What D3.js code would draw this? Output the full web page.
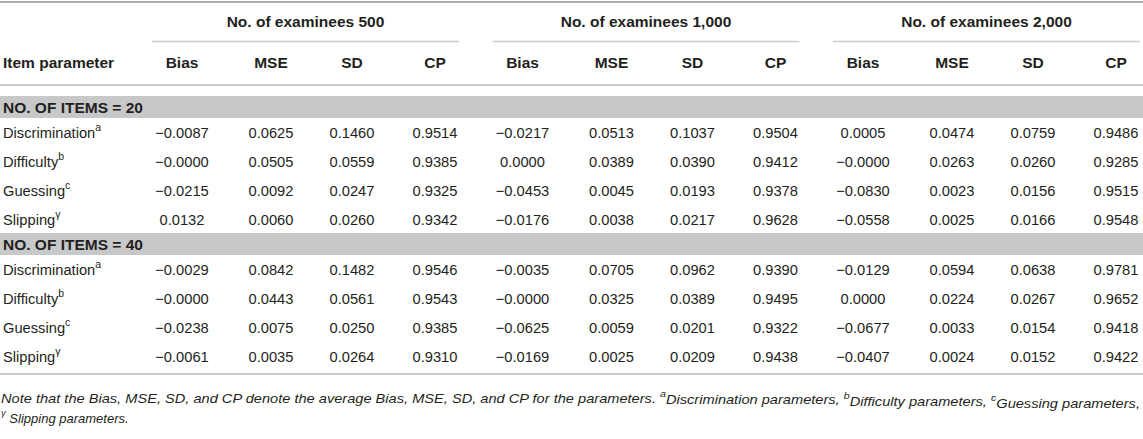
<!DOCTYPE html>
<html>
<head>
<meta charset="utf-8">
<script src="https://cdn.jsdelivr.net/npm/d3@7"></script>
<style>
  body { margin: 0; background: #fff; }
  text { font-family: "Liberation Sans", Arial, sans-serif; fill: #231f20; }
</style>
</head>
<body>
<svg id="table" width="1143" height="439"></svg>
<script>
// table content
const groups = ["No. of examinees 500", "No. of examinees 1,000", "No. of examinees 2,000"];
const stats = ["Bias", "MSE", "SD", "CP"];
const items = ["Discrimination", "Difficulty", "Guessing", "Slipping"];
const itemSups = ["a", "b", "c", "\u03b3"];
const sections = ["NO. OF ITEMS = 20", "NO. OF ITEMS = 40"];

// values per section, one row per item, 12 cells (500 / 1,000 / 2,000 x Bias MSE SD CP)
const items20 = [
  ["\u22120.0087", "0.0625", "0.1460", "0.9514", "\u22120.0217", "0.0513", "0.1037", "0.9504", "0.0005", "0.0474", "0.0759", "0.9486"],
  ["\u22120.0000", "0.0505", "0.0559", "0.9385", "0.0000", "0.0389", "0.0390", "0.9412", "\u22120.0000", "0.0263", "0.0260", "0.9285"],
  ["\u22120.0215", "0.0092", "0.0247", "0.9325", "\u22120.0453", "0.0045", "0.0193", "0.9378", "\u22120.0830", "0.0023", "0.0156", "0.9515"],
  ["0.0132", "0.0060", "0.0260", "0.9342", "\u22120.0176", "0.0038", "0.0217", "0.9628", "\u22120.0558", "0.0025", "0.0166", "0.9548"]
];
const items40 = [
  ["\u22120.0029", "0.0842", "0.1482", "0.9546", "\u22120.0035", "0.0705", "0.0962", "0.9390", "\u22120.0129", "0.0594", "0.0638", "0.9781"],
  ["\u22120.0000", "0.0443", "0.0561", "0.9543", "\u22120.0000", "0.0325", "0.0389", "0.9495", "0.0000", "0.0224", "0.0267", "0.9652"],
  ["\u22120.0238", "0.0075", "0.0250", "0.9385", "\u22120.0625", "0.0059", "0.0201", "0.9322", "\u22120.0677", "0.0033", "0.0154", "0.9418"],
  ["\u22120.0061", "0.0035", "0.0264", "0.9310", "\u22120.0169", "0.0025", "0.0209", "0.9438", "\u22120.0407", "0.0024", "0.0152", "0.9422"]
];
const sectionValues = [items20, items40];

const noteLine1 = [
  ["", "Note that the Bias, MSE, SD, and CP denote the average Bias, MSE, SD, and CP for the parameters. "],
  ["a", "Discrimination parameters, "],
  ["b", "Difficulty parameters, "],
  ["c", "Guessing parameters,"]
];
const noteLine2 = [["\u03b3", " Slipping parameters."]];

const W = 1143;
const svg = d3.select("#table");
const boldSize = 15.5, bodySize = 14.7;

// column positions
const groupX = d3.scaleLinear().domain([0, groups.length - 1]).range([152, 833]);
const groupW = 307;
const statX = d3.scaleOrdinal().domain(stats).range([30, 119, 200, 283]);
const colX = (g, s) => groupX(g) + statX(s);

// row layout: section band then four item rows
const bandH = 22, rowH = 29;
let rows = [];
let y = 96;
sections.forEach((s, si) => {
  rows.push({ type: "section", label: s, y: y, h: bandH });
  y += bandH;
  items.forEach((it, ii) => {
    rows.push({ type: "item", label: it, sup: itemSups[ii], vals: sectionValues[si][ii], y: y, h: rowH });
    y += rowH;
  });
  y -= 1;
});
const tableBottom = y + 3;

const rule = (y1, x1, x2, w, c) =>
  svg.append("line").attr("x1", x1).attr("x2", x2).attr("y1", y1).attr("y2", y1)
     .attr("stroke", c).attr("stroke-width", w);

// header
rule(2, 0, W, 2, "#aeaeae");

svg.selectAll(".ghead").data(groups).join("text")
   .attr("class", "ghead")
   .attr("x", (d, i) => groupX(i) + groupW / 2)
   .attr("y", 22).attr("dy", "0.35em")
   .attr("text-anchor", "middle")
   .attr("font-size", boldSize).attr("font-weight", "bold")
   .text(d => d);

groups.forEach((g, i) => rule(41.5, groupX(i), Math.min(W, groupX(i) + groupW), 1.5, "#cccccc"));

svg.append("text").attr("x", 3).attr("y", 63).attr("dy", "0.35em")
   .attr("font-size", boldSize).attr("font-weight", "bold").text("Item parameter");

groups.forEach((g, gi) => {
  svg.append("g").selectAll("text").data(stats).join("text")
     .attr("x", d => colX(gi, d))
     .attr("y", 63).attr("dy", "0.35em")
     .attr("text-anchor", "middle")
     .attr("font-size", boldSize).attr("font-weight", "bold")
     .text(d => d);
});

rule(85, 0, W, 1.5, "#b8b8b8");

// body
const rowG = svg.append("g").selectAll("g").data(rows).join("g")
   .attr("transform", d => `translate(0,${d.y})`);

rowG.filter(d => d.type === "section").each(function(d) {
  const g = d3.select(this);
  g.append("rect").attr("x", 0).attr("y", 0).attr("width", W).attr("height", d.h).attr("fill", "#c7c8ca");
  g.append("text").attr("x", 3).attr("y", d.h / 2).attr("dy", "0.36em")
   .attr("font-size", boldSize).attr("font-weight", "bold").text(d.label);
});

rowG.filter(d => d.type === "item").each(function(d) {
  const g = d3.select(this);
  const t = g.append("text").attr("x", 3).attr("y", d.h / 2).attr("dy", "0.36em").attr("font-size", bodySize);
  t.append("tspan").text(d.label);
  t.append("tspan").attr("font-size", 10.5).attr("dy", "-0.6em").text(d.sup);
  const cells = [];
  groups.forEach((gr, gi) => stats.forEach((s, si) => cells.push({ x: colX(gi, s), v: d.vals[gi * 4 + si] })));
  g.selectAll(".cell").data(cells).join("text")
   .attr("class", "cell")
   .attr("x", c => c.x).attr("y", d.h / 2).attr("dy", "0.36em")
   .attr("text-anchor", "middle").attr("font-size", bodySize)
   .text(c => c.v);
});

rule(tableBottom + 1, 0, W, 1.5, "#b8b8b8");

// note
function note(parts, yy, fit) {
  const t = svg.append("text").attr("x", 1).attr("y", yy).attr("dy", "0.35em")
     .attr("font-size", 13).attr("font-style", "italic");
  parts.forEach(p => {
    if (p[0]) t.append("tspan").attr("font-size", 9.5).attr("dy", "-0.55em").text(p[0]);
    t.append("tspan").attr("dy", p[0] ? "0.55em" : null).text(p[1]);
  });
  if (fit) t.attr("textLength", fit).attr("lengthAdjust", "spacingAndGlyphs");
}
note(noteLine1, tableBottom + 25, 1139);
note(noteLine2, tableBottom + 48, null);
</script>
</body>
</html>
